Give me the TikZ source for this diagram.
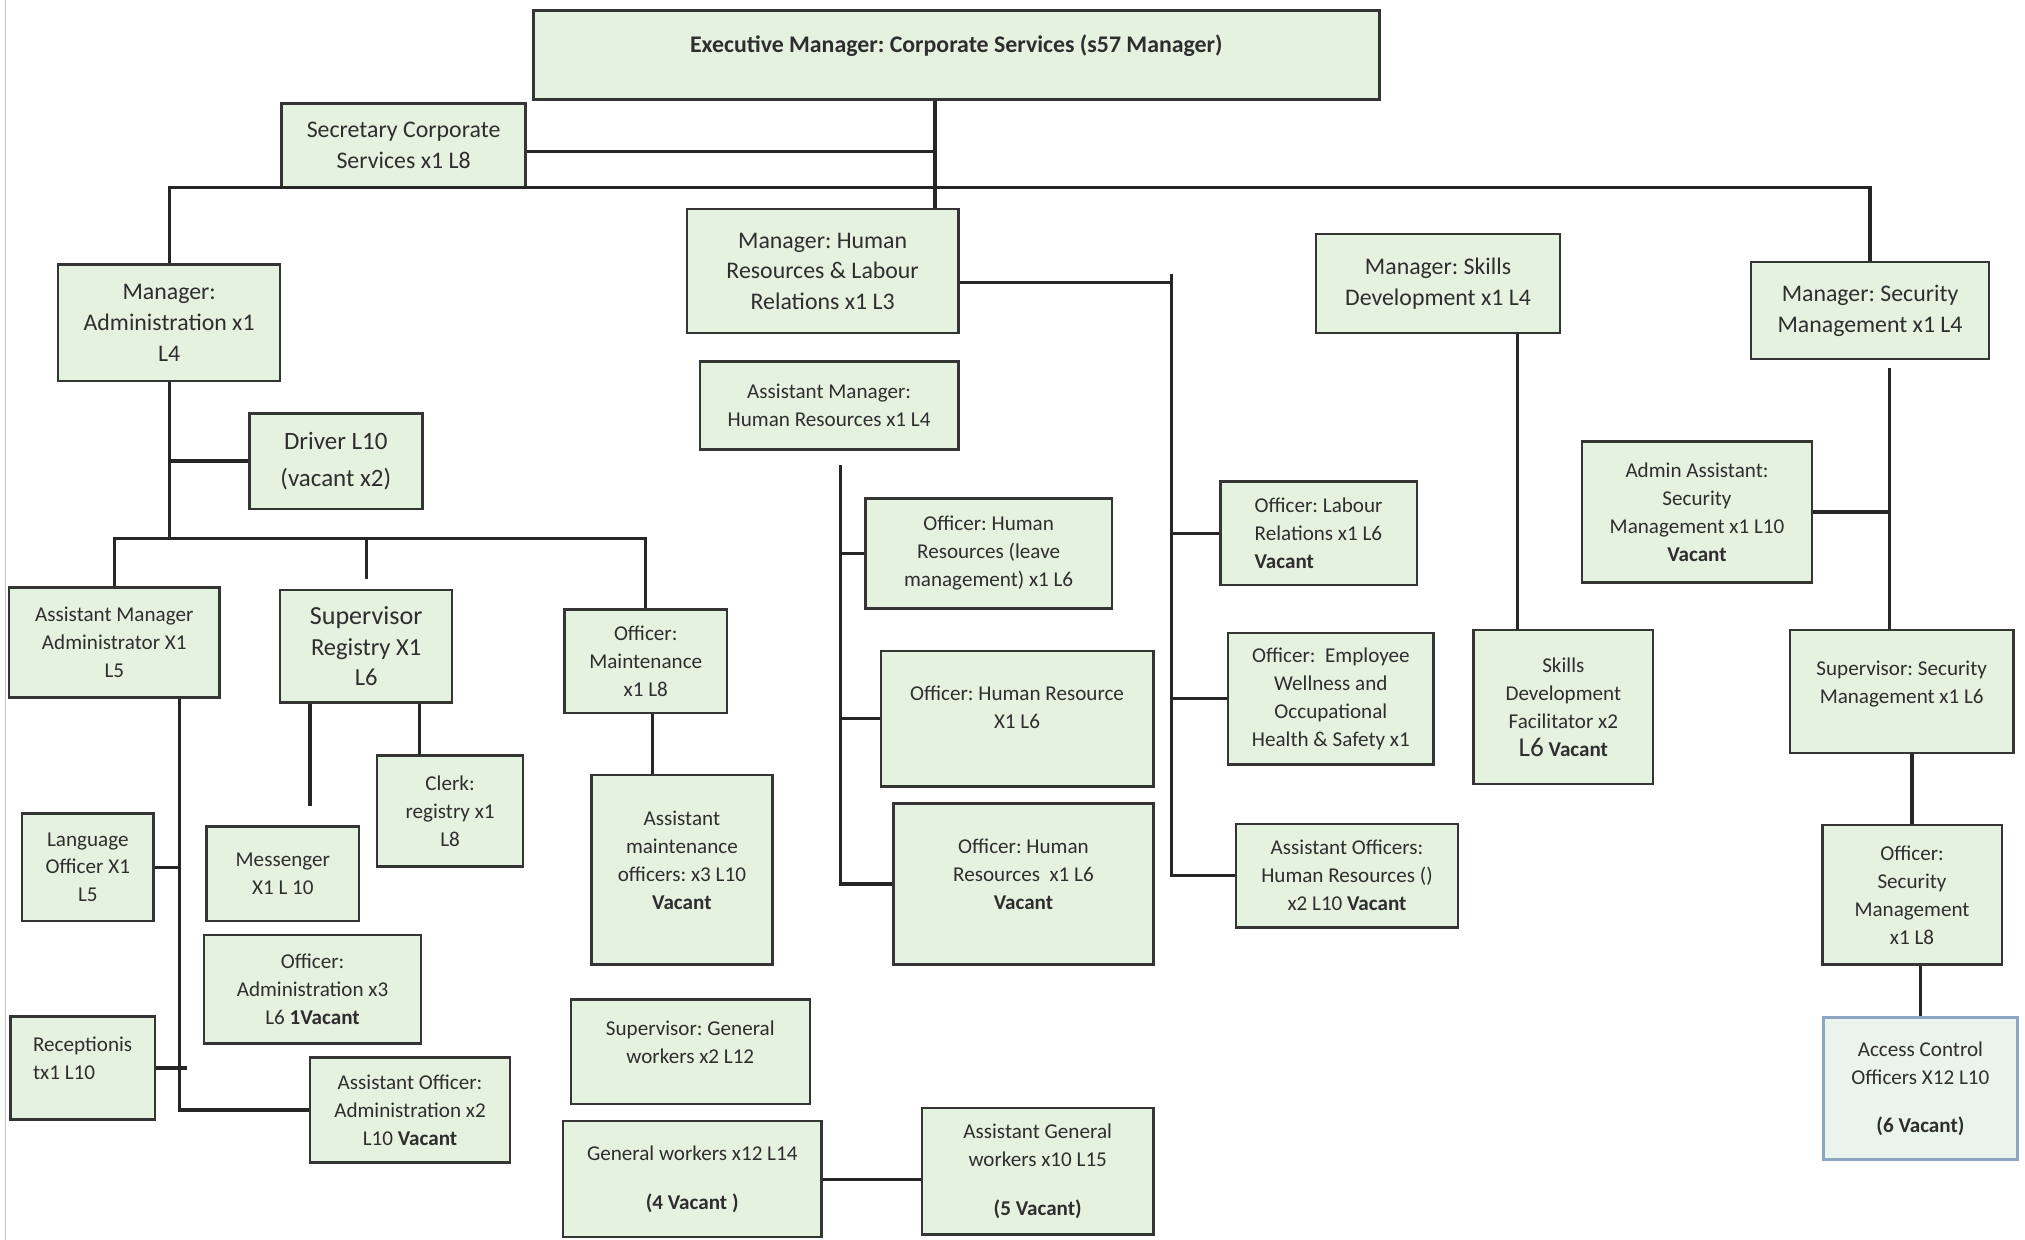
\documentclass[tikz,border=0pt]{standalone}
\usepackage{fontspec}
\setmainfont{Carlito}
\usepackage{xcolor}
\usepackage{tikz}
\usetikzlibrary{positioning, calc}
\frenchspacing

\definecolor{postfill}{HTML}{E6F2E0}
\definecolor{postline}{HTML}{353535}
\definecolor{acfill}{HTML}{EAF4EC}
\definecolor{acline}{HTML}{8CA6C4}

\newcommand{\mgrfont}{\fontsize{10.5}{13.5}\selectfont}
\newcommand{\postfont}{\fontsize{9.3}{12.3}\selectfont}

\begin{document}
\begin{tikzpicture}[
  post/.style={draw=postline, line width=1.1pt, fill=postfill, align=center, inner sep=2pt, text=black!82, font=\postfont},
  mgr/.style={post, font=\mgrfont},
  dims/.style 2 args={minimum width=#1cm, minimum height=#2cm},
  conn/.style={draw=black!85, line width=1.4pt}
]
\useasboundingbox[fill=white] (0,0) rectangle (31.36,-19.2);
\draw[gray!45, line width=0.6pt] (0.09,0) -- (0.09,-19.2);

% ── Executive & secretary ──
\node[mgr, dims={13.10}{1.38}, font=\mgrfont\bfseries] (exec) at (14.81,-0.85) {Executive Manager: Corporate Services (s57 Manager)\\[-4pt]~};
\node[mgr, dims={3.78}{1.30}] (sec) at (6.25,-2.25) {Secretary Corporate\\Services x1 L8};

% ── Managers ──
\node[mgr, dims={3.44}{1.80}] (adm) at (2.62,-5.00) {Manager:\\Administration x1\\L4};
\node[mgr, dims={4.20}{1.92}] (hrm) at (12.74,-4.20) {Manager: Human\\Resources \& Labour\\Relations x1 L3};
\node[mgr, dims={3.78}{1.54}] (skm) at (22.27,-4.39) {Manager: Skills\\Development x1 L4};
\node[mgr, dims={3.68}{1.50}] (secm) at (28.96,-4.81) {Manager: Security\\Management x1 L4};

% ── Administration ──
\node[mgr, dims={2.68}{1.48}, font=\fontsize{11}{16}\selectfont] (driver) at (5.20,-7.14) {Driver L10\\(vacant x2)};
\node[post, dims={3.26}{1.70}] (amadm) at (1.77,-9.95) {Assistant Manager\\Administrator X1\\L5};
\node[mgr, dims={2.66}{1.74}, font=\fontsize{10.8}{13.5}\selectfont] (supreg) at (5.67,-10.01) {{\fontsize{11.5}{13.5}\selectfont Supervisor}\\Registry X1\\L6};
\node[post, dims={2.52}{1.60}] (offmaint) at (10.00,-10.24) {Officer:\\Maintenance\\x1 L8};
\node[post, dims={2.04}{1.66}] (lang) at (1.36,-13.43) {Language\\Officer X1\\L5};
\node[post, dims={2.24}{1.60}, align=left] (recep) at (1.28,-16.54) {Receptionis\\tx1 L10\\[-4pt]~};
\node[post, dims={2.36}{1.46}] (msgr) at (4.38,-13.53) {Messenger\\X1 L 10};
\node[post, dims={2.26}{1.72}] (clerk) at (6.97,-12.56) {Clerk:\\registry x1\\L8};
\node[post, dims={3.36}{1.68}] (offadm) at (4.84,-15.32) {Officer:\\Administration x3\\L6 \textbf{1Vacant}};
\node[post, dims={3.10}{1.62}] (aoffadm) at (6.35,-17.19) {Assistant Officer:\\Administration x2\\L10 \textbf{Vacant}};
\node[post, dims={2.80}{2.94}] (amaint) at (10.56,-13.47) {Assistant\\maintenance\\officers: x3 L10\\\textbf{Vacant}\\[-4pt]~};
\node[post, dims={3.70}{1.62}] (supgw) at (10.69,-16.29) {Supervisor: General\\workers x2 L12\\[-4pt]~};
\node[post, dims={4.00}{1.80}] (gw) at (10.72,-18.26) {General workers x12 L14\\[9pt]\textbf{(4 Vacant )}};
\node[post, dims={3.58}{1.96}] (agw) at (16.07,-18.14) {Assistant General\\workers x10 L15\\[9pt]\textbf{(5 Vacant)}};

% ── Human resources & labour relations ──
\node[post, dims={4.00}{1.36}] (amhr) at (12.84,-6.28) {Assistant Manager:\\Human Resources x1 L4};
\node[post, dims={3.82}{1.70}] (ohrlv) at (15.31,-8.57) {Officer: Human\\Resources (leave\\management) x1 L6};
\node[post, dims={4.22}{2.10}] (ohr) at (15.75,-11.13) {Officer: Human Resource\\X1 L6\\[-2pt]~};
\node[post, dims={4.02}{2.50}] (ohrvac) at (15.85,-13.69) {Officer: Human\\Resources\ \ x1 L6\\\textbf{Vacant}\\[-4pt]~};
\node[post, dims={3.04}{1.60}, align=left] (olab) at (20.42,-8.26) {Officer: Labour\\Relations x1 L6\\\textbf{Vacant}};
\node[post, dims={3.18}{2.04}] (owell) at (20.61,-10.82) {Officer:\ \ Employee\\Wellness and\\Occupational\\Health \& Safety x1};
\node[post, dims={3.44}{1.60}] (aohr) at (20.86,-13.56) {Assistant Officers:\\Human Resources ()\\x2 L10 \textbf{Vacant}};

% ── Skills development ──
\node[post, dims={2.78}{2.38}] (sdf) at (24.21,-10.95) {Skills\\Development\\Facilitator x2\\{\fontsize{12}{14}\selectfont L6} \textbf{Vacant}};

% ── Security management ──
\node[post, dims={3.56}{2.18}] (aasec) at (26.28,-7.93) {Admin Assistant:\\Security\\Management x1 L10\\\textbf{Vacant}};
\node[post, dims={3.46}{1.90}] (supsec) at (29.45,-10.71) {Supervisor: Security\\Management x1 L6\\[-4pt]~};
\node[post, dims={2.78}{2.16}] (offsec) at (29.61,-13.86) {Officer:\\Security\\Management\\x1 L8};
\node[post, dims={3.00}{2.20}, draw=acline, fill=acfill] (acc) at (29.74,-16.86) {Access Control\\Officers X12 L10\\[9pt]\textbf{(6 Vacant)}};

% tap points for the vertical runs
\coordinate (trunk) at (14.48,-2.90);
\coordinate (admbus) at (2.66,-8.34);
\coordinate (admspine) at (2.78,0);
\coordinate (msgtap) at (4.80,0);
\coordinate (clerktap) at (6.50,0);
\coordinate (hrspine) at (13.02,-7.20);
\coordinate (lrspine) at (18.14,-4.24);
\coordinate (sdftap) at (23.50,0);
\coordinate (secspine) at (29.26,-5.70);

% ═══ LINES ═══
% exec -> HR manager, secretary, main bus
\draw[conn] (exec.south -| trunk) -- (hrm.north -| trunk);
\draw[conn] ([yshift=-0.09cm]sec.east) -- ([yshift=-0.09cm]sec.east -| trunk);
\draw[conn] (adm.north) -- (adm.north |- trunk) -- (secm.north |- trunk) -- (secm.north);

% administration
\draw[conn] (adm.south) -- (adm.south |- admbus);
\draw[conn] (driver.west) -- (driver.west -| adm.south);
\draw[conn] (amadm.north) -- (amadm.north |- admbus) -- (offmaint.north |- admbus) -- (offmaint.north);
\draw[conn, shorten >=0.15cm] (supreg.north |- admbus) -- (supreg.north);
\draw[conn] (amadm.south -| admspine) |- (aoffadm.west);
\draw[conn] (lang.east) -- (lang.east -| admspine);
\draw[conn] (recep.east) -- ([xshift=0.12cm]recep.east -| admspine);
\draw[conn, shorten >=0.3cm] (supreg.south -| msgtap) -- (msgr.north -| msgtap);
\draw[conn] (supreg.south -| clerktap) -- (clerk.north -| clerktap);
\draw[conn] ([xshift=0.1cm]offmaint.south) -- ([xshift=0.1cm]offmaint.south |- amaint.north);
\draw[conn] (gw.east) -- (gw.east -| agw.west);

% human resources
\draw[conn] (hrspine) |- (ohrvac.west);
\draw[conn] (ohrlv.west) -- (ohrlv.west -| hrspine);
\draw[conn] (ohr.west) -- (ohr.west -| hrspine);
\draw[conn] ([yshift=-0.18cm]hrm.east) -- ([yshift=-0.18cm]hrm.east -| lrspine);
\draw[conn] (lrspine) |- (aohr.west);
\draw[conn] (olab.west) -- (olab.west -| lrspine);
\draw[conn] (owell.west) -- (owell.west -| lrspine);

% skills
\draw[conn] (skm.south -| sdftap) -- (sdf.north -| sdftap);

% security
\draw[conn] (secspine) -- (secspine |- supsec.north);
\draw[conn] (aasec.east) -- (aasec.east -| secspine);
\draw[conn] (offsec.north) -- (offsec.north |- supsec.south);
\draw[conn] (offsec.south -| acc.north) -- (acc.north);

\end{tikzpicture}
\end{document}
